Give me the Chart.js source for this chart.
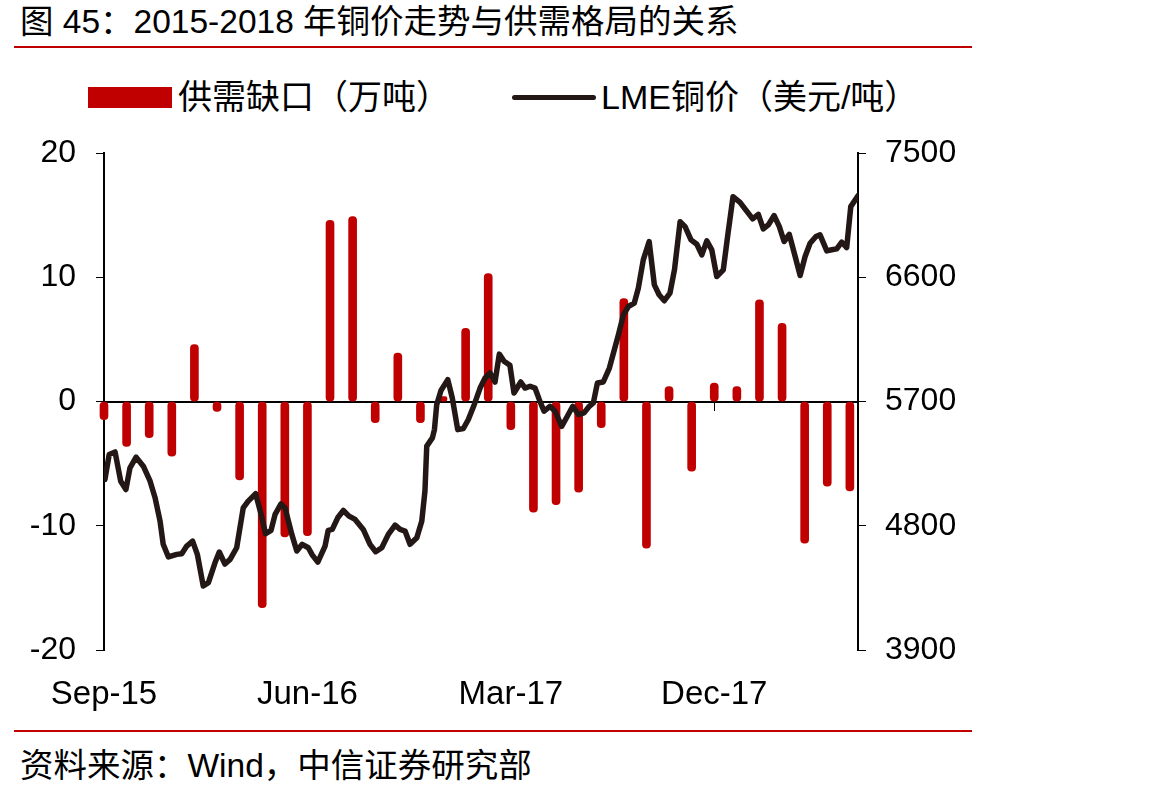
<!DOCTYPE html>
<html>
<head>
<meta charset="utf-8">
<script src="https://cdn.jsdelivr.net/npm/chart.js@4.4.1/dist/chart.umd.min.js"></script>
<style>
  html, body { margin: 0; padding: 0; background: #fff; }
  body { width: 1172px; height: 797px; position: relative; overflow: hidden;
         font-family: "Liberation Sans", "Noto Sans CJK SC", sans-serif; color: #000; }
  .title { position: absolute; left: 20px; top: 3px; font-size: 33.5px; line-height: 38px; white-space: nowrap; }
  .rule { position: absolute; left: 14px; width: 958px; height: 2px; background: #c00000; }
  .legend { position: absolute; top: 77px; height: 40px; font-size: 34px; line-height: 40px; white-space: nowrap; }
  .swatch-bar { position: absolute; left: 88px; top: 87px; width: 84px; height: 21px; background: #c00000; }
  .swatch-line { position: absolute; left: 512px; top: 95px; width: 84px; height: 5px; background: #231815; border-radius: 3px; }
  .source { position: absolute; left: 20px; top: 747px; font-size: 33.5px; line-height: 38px; white-space: nowrap; }
  canvas { position: absolute; left: 0; top: 114px; }
</style>
</head>
<body>
<div class="title">图 45：2015-2018 年铜价走势与供需格局的关系</div>
<div class="rule" style="top:46px"></div>

<div class="swatch-bar"></div>
<div class="legend" style="left:178px">供需缺口（万吨）</div>
<div class="swatch-line"></div>
<div class="legend" style="left:601px">LME铜价（美元/吨）</div>

<canvas id="chart" width="1000" height="617"></canvas>

<div class="rule" style="top:730px"></div>
<div class="source">资料来源：Wind，中信证券研究部</div>

<script>
// monthly supply-demand gap (10k t), Sep-15 .. Jun-18
const months = [
  "Sep-15", "Oct-15", "Nov-15", "Dec-15", "Jan-16", "Feb-16", "Mar-16", "Apr-16", "May-16",
  "Jun-16", "Jul-16", "Aug-16", "Sep-16", "Oct-16", "Nov-16", "Dec-16", "Jan-17", "Feb-17",
  "Mar-17", "Apr-17", "May-17", "Jun-17", "Jul-17", "Aug-17", "Sep-17", "Oct-17", "Nov-17",
  "Dec-17", "Jan-18", "Feb-18", "Mar-18", "Apr-18", "May-18", "Jun-18"
];
const gap = [
  -1.45, -3.6, -2.9, -4.4, 4.6, -0.8, -6.3, -16.6, -10.9,
  -10.8, 14.6, 14.9, -1.7, 3.9, -1.7, 0.4, 5.9, 10.3,
  -2.25, -8.9, -8.3, -7.3, -2.1, 8.3, -11.8, 1.2, -5.6,
  1.5, 1.2, 8.2, 6.3, -11.4, -6.8, -7.2
];

// LME copper price (USD/t), position in months since Sep-15
const priceT = [
  0.04, 0.23, 0.49, 0.74, 0.97, 1.15, 1.42, 1.74, 2.04, 2.26,
  2.48, 2.62, 2.85, 3.22, 3.44, 3.66, 3.92, 4.13, 4.39, 4.62,
  4.91, 5.10, 5.35, 5.58, 5.87, 6.16, 6.38, 6.71, 6.95, 7.15,
  7.39, 7.57, 7.83, 8.01, 8.31, 8.53, 8.77, 9.04, 9.22, 9.46,
  9.78, 9.92, 10.10, 10.34, 10.59, 10.84, 11.11, 11.47, 11.77, 12.02,
  12.29, 12.58, 12.88, 13.10, 13.32, 13.54, 13.84, 14.06, 14.20, 14.28,
  14.53, 14.62, 14.72, 14.91, 15.21, 15.41, 15.65, 15.90, 16.12, 16.38,
  16.64, 16.86, 17.08, 17.30, 17.49, 17.70, 17.96, 18.14, 18.44, 18.63,
  18.85, 19.07, 19.26, 19.47, 19.73, 19.96, 20.25, 20.50, 20.74, 20.99,
  21.24, 21.47, 21.65, 21.83, 22.09, 22.36, 22.76, 22.98, 23.20, 23.46,
  23.64, 23.86, 24.12, 24.35, 24.56, 24.79, 25.04, 25.24, 25.49, 25.71,
  25.97, 26.23, 26.45, 26.67, 26.89, 27.11, 27.40, 27.60, 27.83, 28.14,
  28.36, 28.70, 28.95, 29.17, 29.39, 29.65, 29.88, 30.09, 30.32, 30.58,
  30.80, 31.02, 31.24, 31.50, 31.68, 31.98, 32.20, 32.42, 32.64, 32.86,
  33.04, 33.36
];
const price = [
  5136, 5317, 5335, 5123, 5063, 5220, 5297, 5232, 5123, 5003,
  4834, 4666, 4574, 4593, 4598, 4653, 4689, 4593, 4364, 4388,
  4532, 4610, 4523, 4557, 4641, 4930, 4979, 5032, 4883, 4742,
  4767, 4883, 4959, 4930, 4738, 4617, 4666, 4641, 4588, 4537,
  4653, 4767, 4774, 4858, 4911, 4870, 4846, 4774, 4666, 4612,
  4641, 4738, 4805, 4774, 4762, 4666, 4713, 4834, 5051, 5377,
  5437, 5497, 5678, 5780, 5859, 5726, 5497, 5505, 5570, 5678,
  5798, 5871, 5907, 5842, 6044, 5992, 5963, 5762, 5842, 5798,
  5811, 5798, 5714, 5630, 5666, 5630, 5521, 5594, 5666, 5606,
  5618, 5666, 5690, 5835, 5842, 5943, 6185, 6329, 6389, 6413,
  6522, 6727, 6860, 6546, 6474, 6431, 6486, 6655, 7004, 6968,
  6872, 6840, 6763, 6865, 6800, 6606, 6655, 6908, 7185, 7144,
  7096, 7024, 7057, 6951, 6980, 7048, 6968, 6860, 6912, 6751,
  6614, 6751, 6847, 6896, 6908, 6792, 6800, 6807, 6855, 6816,
  7113, 7192
];

const tickLabels = ["Sep-15", "Jun-16", "Mar-17", "Dec-17"];

const FONT = "'Liberation Sans', 'Noto Sans CJK SC', sans-serif";
const tickValues = tickLabels.map(l => months.indexOf(l));
const setTicks = (scale) => { scale.ticks = tickValues.map(v => ({ value: v })); };

const ctx = document.getElementById("chart").getContext("2d");
new Chart(ctx, {
  type: "bar",
  data: {
    datasets: [
      {
        type: "line",
        label: "LME铜价（美元/吨）",
        data: priceT.map((t, i) => ({ x: t, y: price[i] })),
        xAxisID: "x",
        yAxisID: "y1",
        borderColor: "#231815",
        borderWidth: 5.5,
        borderJoinStyle: "round",
        borderCapStyle: "round",
        pointRadius: 0,
        tension: 0,
        order: 0,
      },
      {
        type: "bar",
        label: "供需缺口（万吨）",
        data: gap.map((v, i) => ({ x: i, y: v })),
        xAxisID: "x",
        yAxisID: "y",
        backgroundColor: "#c00000",
        barThickness: 8,
        borderRadius: 4,
        borderSkipped: false,
        clip: false,
        order: 1,
      },
    ],
  },
  options: {
    responsive: false,
    animation: false,
    layout: { padding: { top: 20, left: 0, right: 0, bottom: 0 } },
    plugins: {
      legend: { display: false },
      tooltip: { enabled: false },
    },
    scales: {
      x: {
        type: "linear",
        position: "bottom",
        offset: false,
        min: 0,
        max: 33.36,
        grid: { display: false, offset: false },
        border: { display: false },
        afterBuildTicks: setTicks,
        afterFit: (s) => { s.height = 81; },
        ticks: {
          autoSkip: false,
          maxRotation: 0,
          padding: 17,
          color: "#000",
          font: { size: 33, family: FONT },
          callback: (v) => months[v],
        },
      },
      // zero line with the month tick marks
      x2: {
        type: "linear",
        position: { y: 0 },
        offset: false,
        min: 0,
        max: 33.36,
        afterBuildTicks: setTicks,
        ticks: { display: false },
        grid: { offset: false, drawOnChartArea: false, drawTicks: true, tickLength: 8, color: "#000", lineWidth: 1 },
        border: { display: true, color: "#000", width: 2 },
      },
      y: {
        position: "left",
        min: -20,
        max: 20,
        afterFit: (s) => { s.width = 104; },
        ticks: { stepSize: 10, padding: 20, color: "#000", font: { size: 32, family: FONT } },
        grid: { drawOnChartArea: false, tickLength: 8, color: "#000", lineWidth: 1 },
        border: { color: "#000", width: 2 },
      },
      y1: {
        position: "right",
        min: 3900,
        max: 7500,
        afterFit: (s) => { s.width = 142; },
        ticks: {
          stepSize: 900, padding: 19, color: "#000", font: { size: 32, family: FONT },
          callback: (v) => String(v),
        },
        grid: { drawOnChartArea: false, tickLength: 8, color: "#000", lineWidth: 1 },
        border: { color: "#000", width: 2 },
      },
    },
  },
});
</script>
</body>
</html>
